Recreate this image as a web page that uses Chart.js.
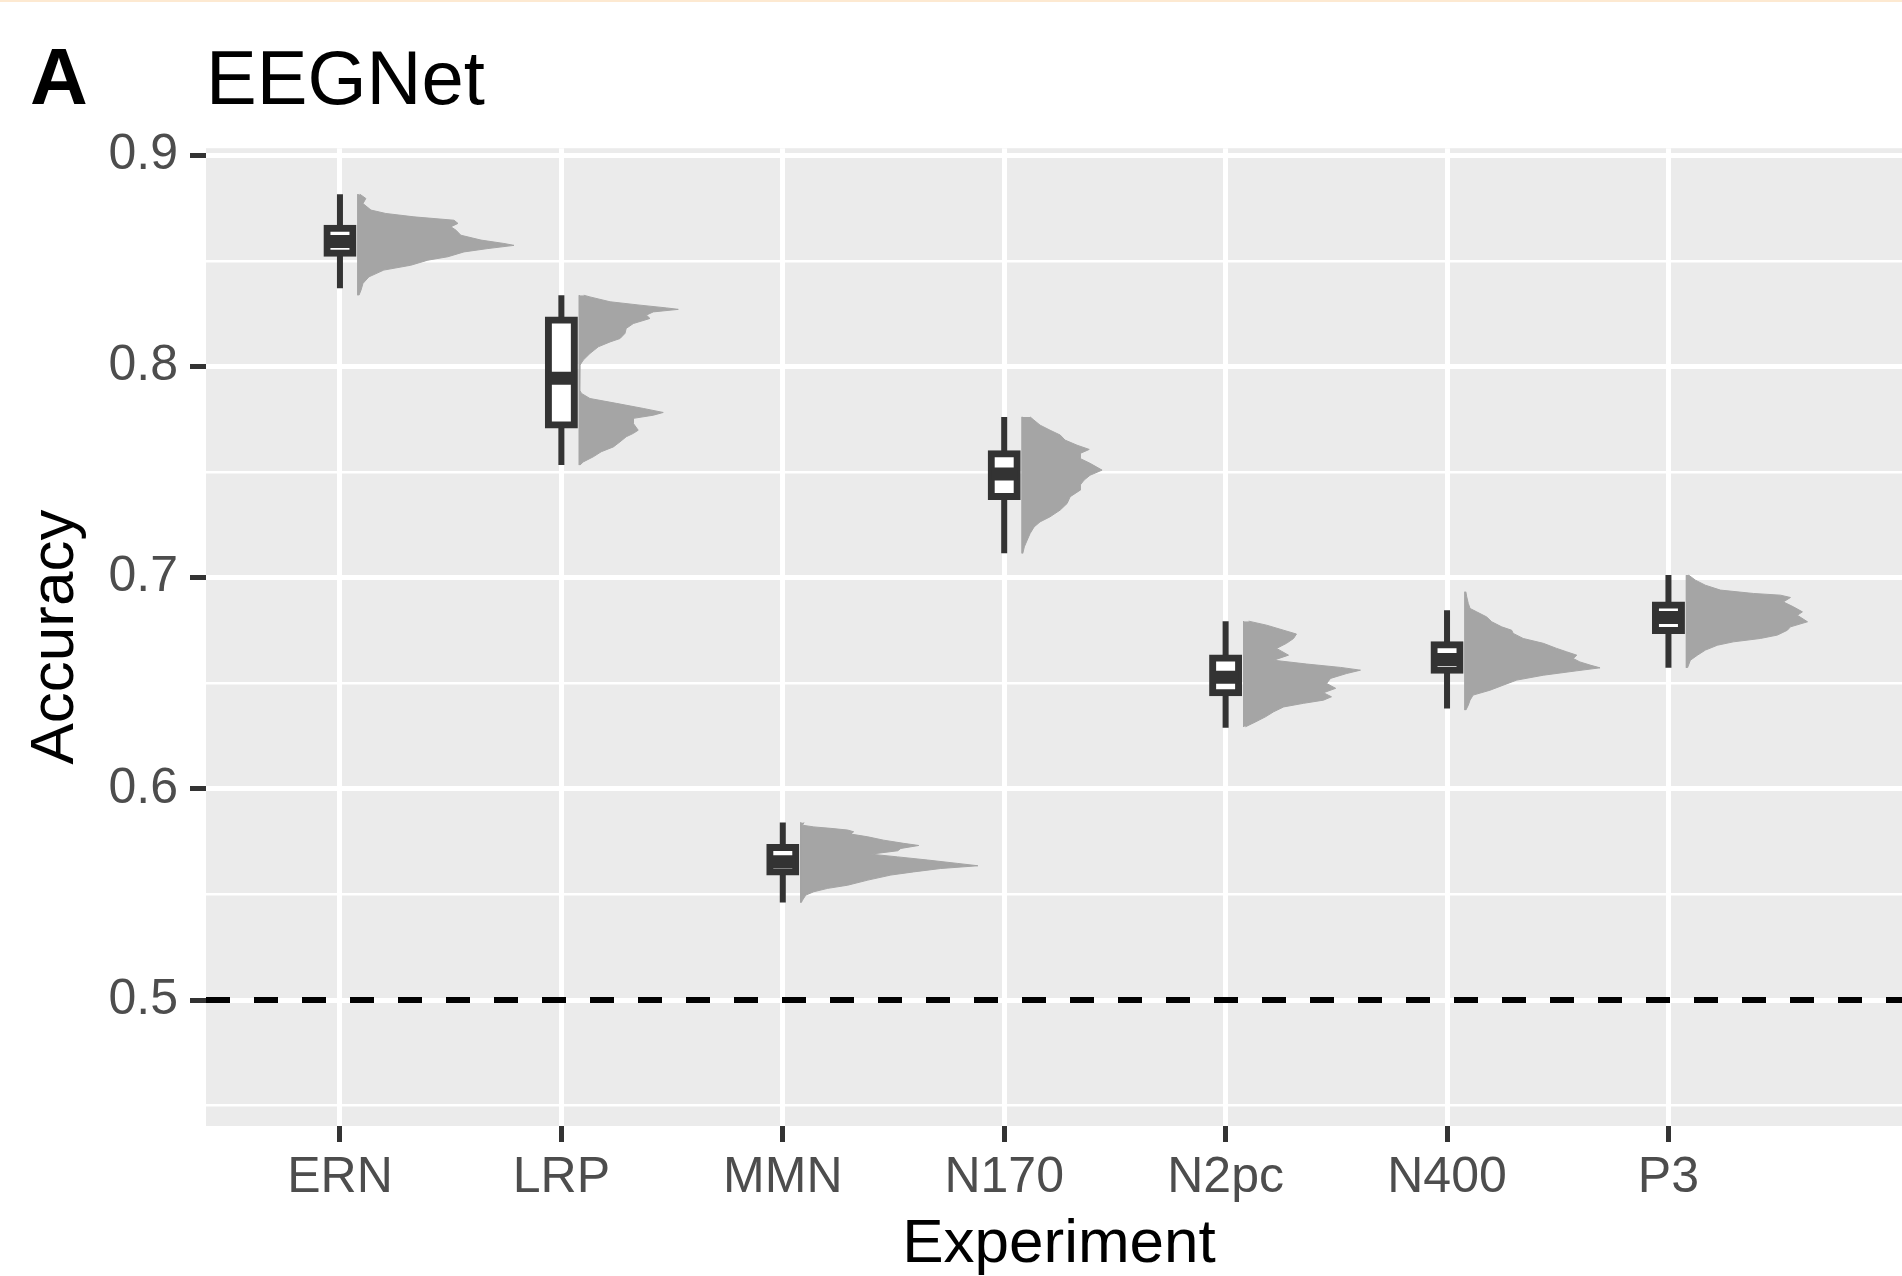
<!DOCTYPE html>
<html>
<head>
<meta charset="utf-8">
<title>EEGNet accuracy by experiment</title>
<script src="https://cdn.jsdelivr.net/npm/chart.js@4.4.1/dist/chart.umd.min.js"></script>
<style>
  html, body { margin: 0; padding: 0; background: #fff; overflow: hidden; }
  #wrap { position: relative; width: 1902px; height: 1276px; overflow: hidden; }
  #topline { position: absolute; left: 0; top: 0; width: 100%; height: 2px; background: #fde9d1; }
  #tag { position: absolute; left: 30px; top: 37px; font: bold 80px "Liberation Sans", Arial, sans-serif; line-height: 1; color: #000; }
  canvas { position: absolute; left: 0; top: 0; }
</style>
</head>
<body>
<div id="wrap">
  <canvas id="chart" width="1920" height="1276"></canvas>
  <div id="tag">A</div>
  <div id="topline"></div>
</div>
<script>
const experiments = ["ERN", "LRP", "MMN", "N170", "N2pc", "N400", "P3"];

// boxplot stats per experiment
const whiskerLow  = [0.8370, 0.7533, 0.5462, 0.7115, 0.6289, 0.6381, 0.6573];
const q1          = [0.8536, 0.7723, 0.5606, 0.7384, 0.6455, 0.6561, 0.6750];
const median      = [0.8591, 0.7944, 0.5655, 0.7491, 0.6529, 0.6613, 0.6811];
const q3          = [0.8654, 0.8220, 0.5723, 0.7586, 0.6619, 0.6682, 0.6871];
const whiskerHigh = [0.8815, 0.8337, 0.5841, 0.7761, 0.6794, 0.6846, 0.7012];

const chanceLevel = 0.5;
const yLabelled = [0.5, 0.6, 0.7, 0.8, 0.9];

// half violins: [accuracy, density as width in category units]
const ernViolin = [[0.8815,0.009],[0.8795,0.036],[0.8771,0.023],[0.8740,0.059],[0.8724,0.126],[0.8708,0.253],[0.8692,0.434],[0.8677,0.452],[0.8661,0.420],[0.8645,0.443],[0.8621,0.465],[0.8598,0.556],[0.8582,0.659],[0.8573,0.705],[0.8558,0.587],[0.8542,0.479],[0.8519,0.406],[0.8503,0.316],[0.8479,0.239],[0.8456,0.117],[0.8424,0.050],[0.8393,0.023],[0.8361,0.014],[0.8337,0.005]];
const lrpViolin = [[0.8337,0.020],[0.8329,0.048],[0.8306,0.139],[0.8290,0.274],[0.8277,0.393],[0.8270,0.447],[0.8258,0.334],[0.8243,0.303],[0.8227,0.319],[0.8203,0.244],[0.8180,0.212],[0.8156,0.206],[0.8132,0.184],[0.8116,0.139],[0.8093,0.086],[0.8061,0.048],[0.8030,0.018],[0.8006,0.003],[0.7982,0.002],[0.7935,0.001],[0.7888,0.002],[0.7872,0.010],[0.7848,0.048],[0.7825,0.167],[0.7801,0.289],[0.7782,0.379],[0.7769,0.334],[0.7754,0.244],[0.7730,0.244],[0.7698,0.266],[0.7683,0.244],[0.7667,0.212],[0.7643,0.184],[0.7619,0.154],[0.7596,0.099],[0.7572,0.063],[0.7548,0.018],[0.7533,0.003]];
const mmnViolin = [[0.5841,0.015],[0.5828,0.008],[0.5820,0.059],[0.5813,0.136],[0.5805,0.212],[0.5797,0.239],[0.5786,0.226],[0.5773,0.303],[0.5757,0.375],[0.5742,0.465],[0.5732,0.533],[0.5718,0.452],[0.5707,0.438],[0.5691,0.316],[0.5678,0.438],[0.5663,0.574],[0.5647,0.709],[0.5636,0.800],[0.5623,0.632],[0.5607,0.510],[0.5592,0.407],[0.5568,0.303],[0.5544,0.212],[0.5529,0.122],[0.5513,0.059],[0.5497,0.023],[0.5473,0.008],[0.5462,0.003]];
const n170Violin = [[0.7761,0.036],[0.7746,0.053],[0.7722,0.081],[0.7698,0.126],[0.7675,0.172],[0.7651,0.194],[0.7627,0.248],[0.7607,0.303],[0.7588,0.262],[0.7564,0.262],[0.7541,0.307],[0.7509,0.361],[0.7485,0.307],[0.7462,0.280],[0.7438,0.262],[0.7414,0.262],[0.7383,0.217],[0.7351,0.203],[0.7320,0.172],[0.7288,0.126],[0.7264,0.081],[0.7240,0.054],[0.7209,0.036],[0.7178,0.023],[0.7146,0.010],[0.7115,0.003]];
const n2pcViolin = [[0.6794,0.023],[0.6775,0.104],[0.6751,0.181],[0.6733,0.239],[0.6712,0.226],[0.6689,0.194],[0.6665,0.149],[0.6633,0.203],[0.6609,0.136],[0.6591,0.285],[0.6575,0.438],[0.6562,0.528],[0.6546,0.465],[0.6523,0.393],[0.6499,0.375],[0.6476,0.416],[0.6455,0.361],[0.6436,0.397],[0.6420,0.361],[0.6405,0.271],[0.6388,0.181],[0.6365,0.136],[0.6341,0.099],[0.6317,0.054],[0.6294,0.009]];
const n400Violin = [[0.6933,0.004],[0.6909,0.008],[0.6878,0.015],[0.6854,0.023],[0.6838,0.053],[0.6814,0.098],[0.6791,0.121],[0.6767,0.166],[0.6751,0.211],[0.6736,0.218],[0.6712,0.263],[0.6689,0.354],[0.6665,0.414],[0.6649,0.459],[0.6633,0.505],[0.6617,0.489],[0.6601,0.519],[0.6586,0.565],[0.6573,0.610],[0.6559,0.505],[0.6538,0.354],[0.6515,0.234],[0.6491,0.173],[0.6467,0.113],[0.6444,0.037],[0.6420,0.023],[0.6396,0.015],[0.6373,0.004]];
const p3Violin = [[0.7012,0.010],[0.6988,0.041],[0.6964,0.086],[0.6941,0.154],[0.6925,0.303],[0.6917,0.425],[0.6906,0.470],[0.6885,0.438],[0.6862,0.483],[0.6838,0.524],[0.6822,0.501],[0.6791,0.547],[0.6767,0.470],[0.6751,0.456],[0.6728,0.411],[0.6712,0.334],[0.6696,0.212],[0.6680,0.140],[0.6657,0.086],[0.6633,0.050],[0.6609,0.018],[0.6573,0.005]];
const violins = [ernViolin, lrpViolin, mmnViolin, n170Violin, n2pcViolin, n400Violin, p3Violin];

const X_MIN = -0.605, X_MAX = 7.1;
const Y_MIN = 0.4404, Y_MAX = 0.9033;
const NUDGE = 0.081;      // violin sits just right of the box
const BOX_HALF = 0.059;   // half box width, category units

const dark = "#333333";
const violinGrey = "#a5a5a5";
const tickGrey = "#4d4d4d";
const family = '"Liberation Sans", Arial, Helvetica, sans-serif';
Chart.defaults.font.family = family;

const isLabelled = v => yLabelled.some(t => Math.abs(t - v) < 1e-6);

const panelBackground = {
    id: "panelBackground",
    beforeDraw(chart) {
        const {ctx, chartArea: a} = chart;
        ctx.save();
        ctx.fillStyle = "#ebebeb";
        ctx.fillRect(a.left, a.top, a.right - a.left, a.bottom - a.top);
        ctx.restore();
    }
};

let datasets = [];
experiments.forEach((name, i) => {
    let v = violins[i];
    let base = i + NUDGE;
    // left edge of the half violin, used as fill target
    datasets.push({
        type: "line", indexAxis: "y", order: 5,
        data: [{x: base, y: v[0][0]}, {x: base, y: v[v.length - 1][0]}],
        borderColor: violinGrey, borderWidth: 1, pointRadius: 0, fill: false
    });
    datasets.push({
        type: "line", indexAxis: "y", order: 5,
        data: v.map(p => ({x: base + p[1], y: p[0]})),
        borderColor: violinGrey, backgroundColor: violinGrey, borderWidth: 1,
        pointRadius: 0, tension: 0, fill: "-1"
    });
    datasets.push({
        type: "line", order: 4,
        data: [{x: i, y: whiskerLow[i]}, {x: i, y: whiskerHigh[i]}],
        borderColor: dark, borderWidth: 6, pointRadius: 0, fill: false
    });
    datasets.push({
        type: "line", order: 2,
        data: [{x: i - BOX_HALF, y: median[i]}, {x: i + BOX_HALF, y: median[i]}],
        borderColor: dark, borderWidth: 13, pointRadius: 0, fill: false
    });
});

datasets.push({
    type: "bar", order: 3,
    data: experiments.map((n, i) => ({x: i, y: [q1[i], q3[i]]})),
    backgroundColor: "#ffffff", borderColor: dark, borderWidth: 7,
    borderSkipped: false, barThickness: 26, inflateAmount: 3.5
});

datasets.push({
    type: "line", order: 1,
    data: [{x: X_MIN, y: chanceLevel}, {x: X_MAX, y: chanceLevel}],
    borderColor: "#000000", borderWidth: 6, borderDash: [24, 24], pointRadius: 0, fill: false
});

new Chart(document.getElementById("chart"), {
    type: "line",
    data: { datasets },
    plugins: [panelBackground],
    options: {
        responsive: false,
        animation: false,
        events: [],
        layout: { padding: { left: 0, right: 8, top: 0, bottom: 0 } },
        plugins: {
            legend: { display: false },
            tooltip: { enabled: false },
            title: {
                display: true, text: "EEGNet", align: "start", fullSize: false, color: "#000",
                font: { size: 76, weight: "normal", lineHeight: 1.2 },
                padding: { top: 37, bottom: 20 }
            }
        },
        scales: {
            x: {
                type: "linear", min: X_MIN, max: X_MAX, offset: false,
                afterBuildTicks: s => { s.ticks = s.ticks.filter(t => t.value >= 0 && t.value < experiments.length); },
                afterFit: s => { s.height = 150; },
                ticks: {
                    stepSize: 1, includeBounds: false, autoSkip: false, maxRotation: 0, padding: 6, color: tickGrey,
                    font: { size: 50 },
                    callback: v => experiments[v] ?? ""
                },
                grid: { offset: false, color: "#ffffff", lineWidth: 5, tickLength: 16, tickColor: dark, tickWidth: 5 },
                border: { display: false },
                title: {
                    display: true, text: "Experiment", color: "#000",
                    font: { size: 62, lineHeight: 1.0 }, padding: { top: 0, bottom: 0 }
                }
            },
            y: {
                type: "linear", min: Y_MIN, max: Y_MAX, offset: false,
                afterFit: s => { s.width = 206; },
                ticks: {
                    stepSize: 0.05, includeBounds: false, autoSkip: false, padding: 12, color: tickGrey,
                    font: { size: 50 },
                    callback: v => isLabelled(v) ? v.toFixed(1) : ""
                },
                grid: {
                    offset: false,
                    color: "#ffffff",
                    lineWidth: c => isLabelled(c.tick.value) ? 5 : 2.5,
                    tickLength: 16,
                    tickColor: c => isLabelled(c.tick.value) ? dark : "rgba(0,0,0,0)",
                    tickWidth: 5
                },
                border: { display: false },
                title: {
                    display: true, text: "Accuracy", color: "#000",
                    font: { size: 62, lineHeight: 1.1 }, padding: { top: 22, bottom: 0 }
                }
            }
        }
    }
});
</script>
</body>
</html>
